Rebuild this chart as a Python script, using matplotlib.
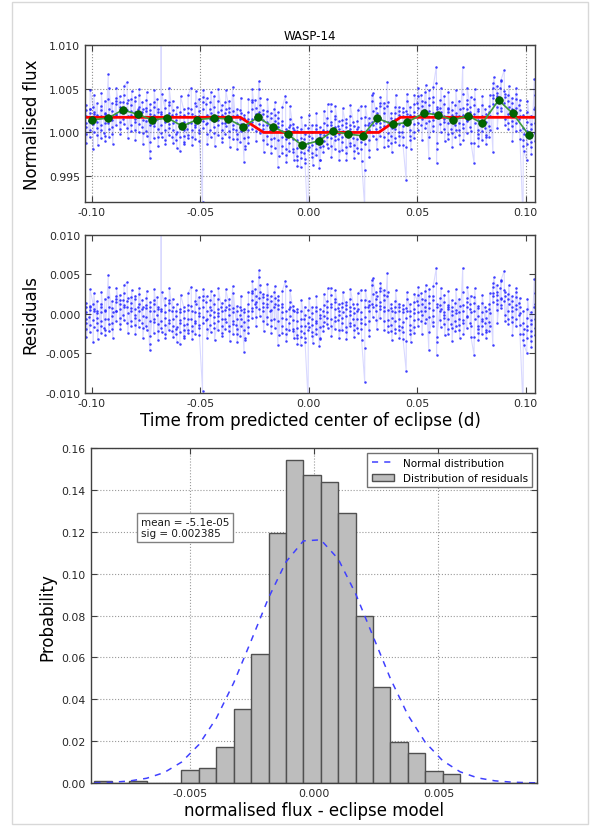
import numpy as np
import matplotlib
matplotlib.use('Agg')
import matplotlib.pyplot as plt
from matplotlib.patches import Rectangle

# residuals (flux - eclipse model) in parts per thousand, one row per time column
resid_cols = [
    [0.8, -0.6, 1.4, -1.9, 0.2, -1.1, -2.9], [-0.4, 1.0, -2.3, 0.5, -1.4, 0.9, 3.1],
    [1.2, -3.6, -0.8, 0.4, -1.7, 0.6, 2.6], [-1.2, 0.3, 1.6, -2.0, -0.5, 0.1, -3.2],
    [1.3, -1.5, 0.2, -2.4, 0.8, -0.9, 2.8], [-1.8, 0.5, 1.9, -0.7, -2.1, 0.4, -2.7],
    [4.9, 2.1, -0.6, -1.3, 0.9, -2.2, 3.4], [-0.3, 1.6, -1.9, 0.7, -1.1, 0.2, -3.0],
    [2.2, 0.4, 1.5, -0.9, 1.9, 0.3, 3.3], [0.6, 2.4, -0.5, 1.2, -1.3, 1.8, -1.9],
    [1.7, -0.2, 2.6, 0.9, -0.8, 1.1, 3.6], [4.0, 0.8, -1.2, 1.6, 0.1, 2.0, -2.4],
    [1.4, -0.9, 2.1, 0.3, -1.6, 0.7, 3.0], [-0.5, 1.9, 0.6, -1.4, 2.3, -0.2, -2.6],
    [0.9, -1.7, 1.2, 2.5, -0.8, 0.4, 3.2], [-1.1, 0.6, 1.8, -0.3, 0.9, -1.8, -3.1],
    [0.7, -1.6, 1.1, -0.4, 2.0, -2.1, 2.9], [-4.6, -3.8, 0.4, 1.5, -0.9, 0.8, -2.8],
    [1.2, -0.7, -2.4, 0.3, 1.7, -1.0, 3.1], [-0.2, 2.1, -1.3, 0.6, -2.2, 0.9, -3.3],
    [0.4, 12.0, -1.8, -0.9, 0.6, -2.3, 2.7], [1.1, -1.4, 0.2, 2.0, -2.6, -0.5, -3.0],
    [-0.8, 1.7, -2.0, 0.5, 1.4, -1.2, 3.3], [0.3, -2.2, 1.9, -0.6, 0.8, -1.5, -2.9],
    [-1.9, 0.4, -2.6, -0.3, 1.2, -1.7, -3.5], [-3.8, 0.6, -1.2, -2.3, 0.2, -0.8, 2.4],
    [0.9, -2.1, -0.5, -3.1, -1.4, 0.3, -2.8], [-1.3, 1.1, -2.4, -0.7, 0.5, -2.0, 2.6],
    [3.4, -0.6, 1.0, -2.2, 0.4, -1.5, -3.2], [-1.1, 1.6, -2.5, 0.2, -0.9, 1.3, 3.0],
    [0.7, -1.8, 0.1, 2.1, -1.4, -0.3, -2.7], [-9.7, 0.9, -0.4, 1.8, -1.2, 2.3, 3.1],
    [1.5, -0.8, 2.2, -1.9, 0.3, -0.6, -3.0], [-1.4, 0.9, -0.2, 1.7, -2.3, 0.5, 2.9],
    [0.2, 2.4, -1.1, -0.4, 1.2, -1.8, -3.3], [-0.9, 0.6, 1.9, -2.0, 0.1, -0.3, 3.2],
    [0.8, -1.5, 0.3, -2.4, 1.4, -0.7, -2.8], [-0.6, 1.8, -1.9, 0.5, -1.0, 0.9, 3.1],
    [1.1, -2.2, 0.6, -0.2, 1.9, -1.6, -3.4], [3.5, 0.2, -1.3, -2.5, 0.7, -0.9, 2.6],
    [-1.4, 0.3, -2.5, -0.6, 1.0, -1.9, -3.6], [-0.2, -2.8, 0.8, -1.5, -0.7, 0.5, 2.3],
    [-4.8, -1.0, 0.6, -2.1, 0.2, -3.3, -3.0], [0.4, -1.7, -0.3, 1.2, -2.4, -0.8, 2.7],
    [2.6, 0.7, 1.8, -0.5, 2.9, 0.3, 4.1], [1.2, 3.1, -0.4, 2.2, 0.9, 1.5, -1.6],
    [5.5, 4.6, 2.0, 0.6, 2.8, -0.3, 3.7], [0.8, 2.5, 1.4, -0.9, 2.1, 0.4, -2.2],
    [1.9, -0.4, 2.4, 0.8, -1.3, 1.2, 3.8], [0.3, 2.2, -0.8, 1.6, 0.5, -1.5, -2.4],
    [2.7, 0.9, -0.6, 1.3, -1.8, 2.0, 3.5], [-3.9, 1.7, 0.6, 2.3, -0.9, 1.1, -2.7],
    [0.9, -1.6, 0.2, -2.4, 1.3, -0.5, 2.9], [4.2, 3.5, -0.7, -1.9, 0.4, -2.6, -3.4],
    [-1.2, 0.6, -2.1, 1.5, -0.3, 0.8, 3.0], [0.5, -1.9, 1.0, -0.8, -2.2, 0.3, -3.1],
    [-1.8, 0.2, -2.7, -0.9, -3.1, 0.6, -3.8], [-4.0, -1.5, 0.4, -2.2, -0.6, -2.9, 1.8],
    [-0.7, -2.4, 0.9, -1.6, -3.0, -0.2, -3.5], [-11.0, -1.2, 0.5, -2.0, -0.4, -1.7, 2.0],
    [-0.6, -2.3, 0.8, -1.4, -2.8, 0.1, -3.7], [-1.9, 0.4, -0.9, -2.6, 0.9, -1.2, 2.2],
    [-4.1, -3.2, -0.5, 0.6, -1.7, -0.2, -3.1], [0.3, -1.6, -2.2, -0.3, 1.1, -1.0, 2.5],
    [0.9, -1.3, 1.6, -0.5, 0.2, -1.8, 3.2], [3.3, 2.4, -0.6, 0.8, -1.5, 1.2, -2.8],
    [-0.4, 1.5, -1.9, 0.6, 1.9, -0.9, 3.0], [0.7, -0.8, 1.3, -2.1, 0.4, -0.2, -3.1],
    [-1.1, 0.8, -2.0, 1.4, -0.5, 0.2, 2.8], [0.6, -1.7, 1.1, -0.3, -2.3, 1.5, -3.2],
    [-0.2, 1.9, -1.2, 0.4, -1.6, 0.9, 3.1], [1.2, -0.6, -2.1, 0.7, 0.1, -1.4, -2.9],
    [0.4, -1.8, 1.3, -0.7, -2.4, 0.6, 2.6], [3.0, 1.7, -1.1, 0.2, -1.9, -0.6, -3.3],
    [-8.6, -4.3, 0.9, -0.4, 1.8, -1.3, 3.0], [0.8, -0.9, 1.6, -2.0, 0.3, 1.1, -2.8],
    [4.3, 3.6, 1.2, -0.4, 2.5, 0.8, 4.5], [1.9, 0.4, 2.8, 1.1, -0.8, 2.2, -1.9],
    [0.6, 2.9, 1.5, -0.5, 3.2, 1.0, 3.9], [2.4, 0.9, -0.9, 1.8, 3.0, 0.3, -2.1],
    [5.1, 2.3, -0.8, -2.3, 0.5, -1.6, 2.8], [-1.4, 0.7, -2.2, 1.2, -0.5, 0.3, -3.3],
    [0.9, -1.9, 0.2, -0.9, 1.6, -2.4, 3.0], [-0.6, 1.3, -1.5, 0.4, -2.0, 0.8, -3.1],
    [-1.7, 0.6, -2.3, 0.2, 1.1, -1.0, -3.2], [-7.2, -3.4, 0.7, -0.5, 1.9, 0.4, 2.7],
    [0.3, -2.1, 1.2, -1.4, -0.3, -2.6, -3.6], [-0.8, 1.5, -1.7, 0.6, -2.4, 0.1, 2.5],
    [1.6, -0.7, 2.4, 0.2, -1.5, 1.1, 3.4], [0.4, 2.6, -0.9, 1.3, -0.2, 1.9, -2.6],
    [2.9, 0.8, -1.2, 1.7, 0.3, -0.6, 3.7], [-4.6, 1.4, 2.2, -0.4, 3.1, 0.7, -2.3],
    [-0.3, 1.8, -1.6, 2.3, 0.5, -1.0, 3.5], [5.8, 3.9, -5.2, -3.6, 1.2, 0.9, -2.9],
    [1.1, -0.8, 2.0, 0.3, -1.7, 0.6, 3.3], [-0.5, 1.5, 0.2, -1.3, 2.4, -0.2, -2.7],
    [0.6, -1.9, 1.1, -0.7, -2.5, 0.9, 2.9], [-1.3, 0.8, -0.2, 1.7, -1.8, 0.3, -3.4],
    [1.4, -0.9, -2.2, 0.5, 0.1, -1.5, 3.1], [-0.6, 1.9, -1.4, 0.2, -2.0, 1.0, -3.0],
    [5.8, 2.7, 0.3, -1.2, 1.1, -0.8, -2.6], [-0.4, 1.5, -1.8, 0.9, -0.3, 2.0, 3.4],
    [1.2, -1.1, 0.6, 2.3, -1.6, 0.2, -2.9], [-5.2, -2.9, 1.4, 0.4, 2.1, -0.7, 3.2],
    [-1.5, 0.7, -2.4, -0.3, 1.0, -1.9, -3.3], [0.2, -1.6, -0.6, 1.4, -2.6, -0.9, 2.4],
    [-1.2, 0.9, -2.0, 0.4, -0.5, -2.3, -3.1], [0.6, -2.2, -1.0, 1.3, -1.5, 0.1, 2.6],
    [-4.0, 2.6, 3.4, 1.5, 3.9, 2.2, 4.6], [2.8, 1.2, 3.6, 0.5, 2.4, 1.8, -1.2],
    [3.3, 1.9, 0.7, 4.1, 2.0, 1.1, 4.3], [5.4, 3.0, 1.6, 2.7, -0.2, 2.3, -0.9],
    [1.9, -0.6, 2.5, 0.4, -1.3, 1.2, 3.6], [0.3, 2.2, -1.0, 1.6, -0.4, 0.9, -2.7],
    [2.1, 0.6, -1.6, 1.1, 2.7, -0.7, 3.3], [-0.2, 1.4, 0.8, -1.4, 2.0, 0.1, -2.5],
    [-12.0, -3.3, -1.2, -2.6, 0.3, -1.9, -3.9], [-4.9, -2.1, -0.5, -3.0, 0.6, -1.6, 1.9],
    [-1.3, -2.8, 0.2, -3.4, -0.8, -2.2, -4.2], [4.4, 0.9, -1.8, -0.6, -2.7, 1.2, 2.6],
]
t_first = -0.1028   # time of first column (d)
t_last = 0.1040     # time of last column (d)

# eclipse model vertices
model_t = [-0.1031, -0.0315, -0.0208, 0.0323, 0.0423, 0.1043]
model_f = [1.00173, 1.00173, 1.00000, 1.00000, 1.00173, 1.00173]

# binned light curve
bin_t = [-0.1000, -0.0923, -0.0858, -0.0788, -0.0720, -0.0651, -0.0582, -0.0515,
         -0.0438, -0.0372, -0.0302, -0.0234, -0.0165, -0.0097, -0.0031, 0.0046,
         0.0112, 0.0180, 0.0248, 0.0315, 0.0389, 0.0454, 0.0531, 0.0597,
         0.0665, 0.0734, 0.0800, 0.0875, 0.0940, 0.1015]
bin_f = [1.00142, 1.00165, 1.00258, 1.00208, 1.00142, 1.00165, 1.00073, 1.00146,
         1.00165, 1.00154, 1.00065, 1.00173, 1.00065, 0.99981, 0.99854, 0.99904,
         1.00015, 0.99981, 0.99962, 1.00162, 1.00092, 1.00115, 1.00223, 1.00200,
         1.00142, 1.00192, 1.00104, 1.00369, 1.00219, 0.99969]

# histogram of residuals
hist_start = -0.00885
hist_width = 0.000701
hist_prob = [0.0011, 0.0, 0.0010, 0.0, 0.0, 0.0064, 0.0073, 0.0170, 0.0354, 0.0619,
             0.1194, 0.1544, 0.1471, 0.1439, 0.1290, 0.0798, 0.0460, 0.0194,
             0.0142, 0.0056, 0.0045, 0.0, 0.0, 0.0, 0.0, 0.0]
mean = -5.1e-05
sig = 0.002385


def style_axes(ax):
    for s in ax.spines.values():
        s.set_color('0.25')
        s.set_linewidth(1.0)
    ax.tick_params(direction='in', top=True, right=True, length=4,
                   labelsize=7.8, color='0.25', labelcolor='0.15')


ncol = len(resid_cols)
col_t = np.linspace(t_first, t_last, ncol)
t = np.concatenate([ct + 0.00005 * np.arange(len(c)) for ct, c in zip(col_t, resid_cols)])
resid = np.concatenate(resid_cols) * 1e-3
model = np.interp(t, model_t, model_f)
flux = model + resid

fig = plt.figure(figsize=(5.96, 8.28), dpi=100)
fig.patches.append(Rectangle((0.0196, 0.0036), 0.9675, 0.9931, transform=fig.transFigure,
                             fill=False, edgecolor='#d8d8d8', lw=1.0))

# light curve
ax1 = fig.add_axes([0.1426, 0.7544, 0.7551, 0.1900])
ax1.plot(t, flux, '-', color='b', alpha=0.15, lw=0.8)
ax1.plot(t, flux, '.', color='#2a2aff', ms=3.6, mew=0, alpha=0.9)
ax1.plot(model_t, model_f, '-', color='red', lw=2)
ax1.plot(bin_t, bin_f, '-', color='#3c9a3c', lw=1.2)
ax1.plot(bin_t, bin_f, 'o', color='#006400', ms=5.5, mew=0.5, mec='#004d00')
ax1.set_xlim(-0.1031, 0.1043)
ax1.set_ylim(0.992, 1.010)
ax1.set_yticks([0.995, 1.000, 1.005, 1.010])
ax1.set_xticks([-0.10, -0.05, 0.00, 0.05, 0.10])
ax1.yaxis.set_major_formatter(matplotlib.ticker.FormatStrFormatter('%.3f'))
ax1.xaxis.set_major_formatter(matplotlib.ticker.FormatStrFormatter('%.2f'))
ax1.grid(True, linestyle=':', color='0.55', lw=0.8)
ax1.set_ylabel('Normalised flux', fontsize=12, labelpad=6)
ax1.set_title('WASP-14', fontsize=8.5, pad=4)
style_axes(ax1)

# residuals
ax2 = fig.add_axes([0.1426, 0.5242, 0.7551, 0.1912])
ax2.plot(t, resid, '-', color='b', alpha=0.15, lw=0.8)
ax2.plot(t, resid, '.', color='#2a2aff', ms=3.6, mew=0, alpha=0.9)
ax2.set_xlim(-0.1031, 0.1043)
ax2.set_ylim(-0.010, 0.010)
ax2.set_yticks([-0.010, -0.005, 0.000, 0.005, 0.010])
ax2.set_xticks([-0.10, -0.05, 0.00, 0.05, 0.10])
ax2.yaxis.set_major_formatter(matplotlib.ticker.FormatStrFormatter('%.3f'))
ax2.xaxis.set_major_formatter(matplotlib.ticker.FormatStrFormatter('%.2f'))
ax2.set_ylabel('Residuals', fontsize=12)
ax2.set_xlabel('Time from predicted center of eclipse (d)', fontsize=12, labelpad=2)
style_axes(ax2)

# histogram of residuals
ax3 = fig.add_axes([0.1522, 0.0531, 0.7493, 0.4043])
edges = hist_start + hist_width * np.arange(len(hist_prob) + 1)
ax3.bar(edges[:-1], hist_prob, width=hist_width, align='edge', color='#bdbdbd',
        edgecolor='#505050', lw=1.0, label='Distribution of residuals')
norm = np.exp(-0.5 * ((edges - mean) / sig) ** 2) / (sig * np.sqrt(2 * np.pi)) * hist_width
ax3.plot(edges, norm, '--', color='#4040ff', lw=1.1, dashes=(4, 4), label='Normal distribution')
ax3.set_xlim(-0.00900, 0.00898)
ax3.set_ylim(0, 0.16)
ax3.set_xticks([-0.005, 0.000, 0.005])
ax3.set_yticks(np.arange(0, 0.161, 0.02))
ax3.xaxis.set_major_formatter(matplotlib.ticker.FormatStrFormatter('%.3f'))
ax3.yaxis.set_major_formatter(matplotlib.ticker.FormatStrFormatter('%.2f'))
ax3.grid(True, linestyle=':', color='0.6', lw=0.8)
ax3.set_axisbelow(True)
ax3.set_ylabel('Probability', fontsize=12)
ax3.set_xlabel('normalised flux - eclipse model', fontsize=12, labelpad=2)
leg = ax3.legend(loc='upper right', fontsize=7.5, fancybox=False, edgecolor='0.3',
                 borderaxespad=0.5, handlelength=2.2)
leg.get_frame().set_linewidth(1.0)
ax3.text(0.112, 0.795, 'mean = -5.1e-05\nsig = 0.002385', transform=ax3.transAxes,
         fontsize=7.5, va='top', ha='left', color='0.1',
         bbox=dict(facecolor='white', edgecolor='0.5', boxstyle='square,pad=0.35'))
style_axes(ax3)

fig.savefig('out.png', dpi=100)
